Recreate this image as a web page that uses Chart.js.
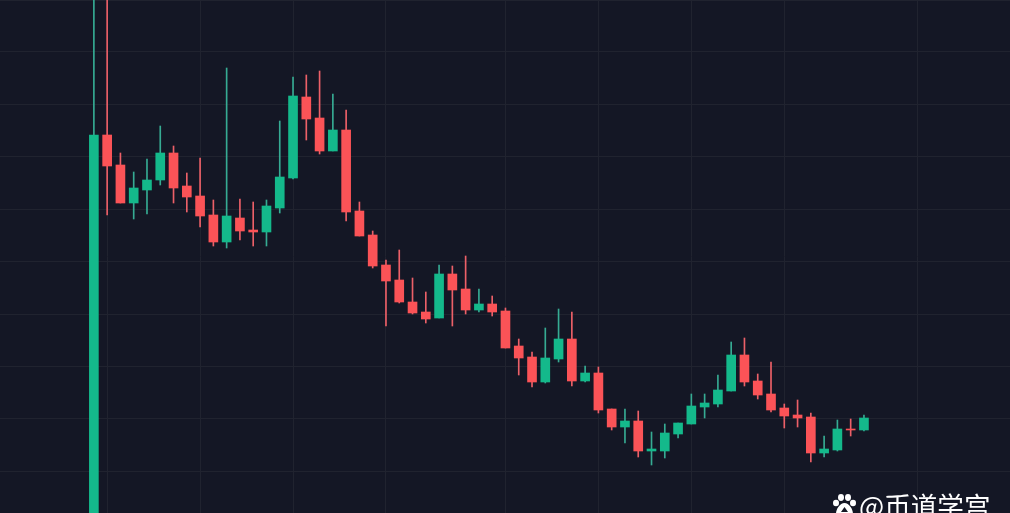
<!DOCTYPE html>
<html><head><meta charset="utf-8">
<style>
html,body{margin:0;padding:0;background:#141725;width:1010px;height:513px;overflow:hidden}
#wrap{position:relative;width:1010px;height:513px;overflow:hidden}
canvas{display:block}
#mark{position:absolute;left:859px;top:487px;color:#fff;font:400 26.6px "Noto Sans CJK SC",sans-serif;line-height:36px;white-space:nowrap}
#paw{position:absolute;left:832px;top:494px}
</style>
<script src="https://cdn.jsdelivr.net/npm/chart.js@4"></script>
</head><body>
<div id="wrap">
<canvas id="c" width="1010" height="513"></canvas>
<svg id="paw" width="25" height="22" viewBox="0 0 25 22" fill="#fff"><ellipse cx="4" cy="9" rx="3" ry="3.2"/><ellipse cx="9" cy="3.5" rx="3" ry="3.4"/><ellipse cx="16" cy="3.5" rx="3" ry="3.4"/><ellipse cx="21" cy="9" rx="3" ry="3.2"/><path d="M12.5 9 C17 9 21 15 21 20 C21 24 4 24 4 20 C4 15 8 9 12.5 9 Z M12.5 13 L9 18 L16 18 Z" fill-rule="evenodd"/></svg>
<div id="mark">@币道学宫</div>
</div>
<script>
const sessions = [0,1,2,3,4,5,6,7,8,9,10,11,12,13,14,15,16,17,18,19,20,21,22,23,24,25,26,27,28,29,30,31,32,33,34,35,36,37,38,39,40,41,42,43,44,45,46,47,48,49,50,51,52,53,54,55,56,57,58];
const open  = [-2,37.8,34.8,31.0,32.3,33.3,36.0,32.7,31.7,29.8,27.1,29.5,28.3,28.1,30.5,33.5,41.6,39.5,36.2,38.3,30.2,27.8,24.8,23.3,21.1,20.1,19.5,23.9,22.4,20.3,20.9,20.2,16.7,15.6,13.1,15.4,17.4,13.2,14.0,10.4,8.6,9.2,6.2,6.2,7.9,8.9,10.6,10.9,12.2,15.8,13.2,11.9,10.5,9.8,9.6,6.0,6.3,8.4,8.3];
const close = [37.8,34.7,31.0,32.5,33.3,36.0,32.5,31.6,29.7,27.1,29.7,28.2,28.1,30.7,33.6,41.7,39.4,36.2,38.3,30.1,27.7,24.7,23.2,21.1,20.0,19.4,23.9,22.3,20.3,20.9,20.1,16.5,15.5,13.1,15.5,17.4,13.2,14.0,10.3,8.6,9.2,6.2,6.4,8.0,9.0,10.7,11.0,12.3,15.8,13.1,11.8,10.3,9.7,9.5,6.0,6.4,8.4,8.3,9.5];
const high  = [57,57,36.0,34.1,35.4,38.7,36.7,34.0,35.5,31.3,44.5,31.4,31.1,31.3,39.2,43.6,43.8,44.2,41.9,40.3,31.1,28.2,25.3,26.3,23.5,22.1,24.8,24.7,25.7,22.4,21.7,20.5,17.4,16.1,18.5,20.4,20.1,14.7,14.6,10.4,10.4,10.2,8.1,8.9,9.0,11.9,11.9,13.8,17.1,17.5,13.9,15.1,10.9,11.3,10.0,7.7,9.3,9.4,9.8];
const low   = [-2,29.8,31.0,29.4,29.9,32.8,31.0,30.1,28.6,26.7,26.5,27.3,26.7,26.7,30.0,33.4,37.3,35.9,36.2,29.2,27.7,24.5,18.7,21.0,19.9,19.0,19.5,18.7,19.9,20.1,19.7,16.5,13.8,12.6,13.0,15.1,12.7,13.1,10.0,8.3,7.0,5.6,4.8,5.5,7.5,8.9,9.5,10.6,12.2,12.7,11.4,10.1,8.5,8.6,5.1,5.6,6.2,7.7,8.2];
const xGridAt = [1,8,15,22,31,38,45,52,62];
const yGridAt = [4.2,9.45,14.7,19.9,25.15,30.4,35.6,40.9,46.1,51.3];

const UP = '#14b98b', DOWN = '#fb5357', UPW = '#36ab93', DOWNW = '#ec6068';
const isUp = i => close[i] >= open[i];

new Chart(document.getElementById('c'), {
  type: 'bar',
  data: { datasets: [
    { data: sessions.map(i => ({x:i, y:[low[i], high[i]]})),
      backgroundColor: sessions.map(i => isUp(i) ? UPW : DOWNW),
      barThickness: 1, grouped: false, order: 2 },
    { data: sessions.map(i => ({x:i, y:[open[i], close[i]]})),
      backgroundColor: sessions.map(i => isUp(i) ? UP : DOWN),
      barThickness: 9, grouped: false, order: 1 }
  ]},
  options: {
    responsive: false, animation: false, maintainAspectRatio: false,
    layout: { padding: 0 },
    plugins: { legend: {display:false}, tooltip: {enabled:false} },
    scales: {
      x: { type:'linear', min:-7.07, max:69.0, offset:false,
           grid:{offset:false, color:'#20232f', lineWidth:1, drawTicks:false},
           border:{display:false}, ticks:{display:false},
           afterBuildTicks: s => { s.ticks = xGridAt.map(v => ({value:v})); } },
      y: { type:'linear', min:0, max:51.3,
           grid:{color:'#20232f', lineWidth:1, drawTicks:false},
           border:{display:false}, ticks:{display:false},
           afterBuildTicks: s => { s.ticks = yGridAt.map(v => ({value:v})); } }
    }
  }
});
</script>
</body></html>
